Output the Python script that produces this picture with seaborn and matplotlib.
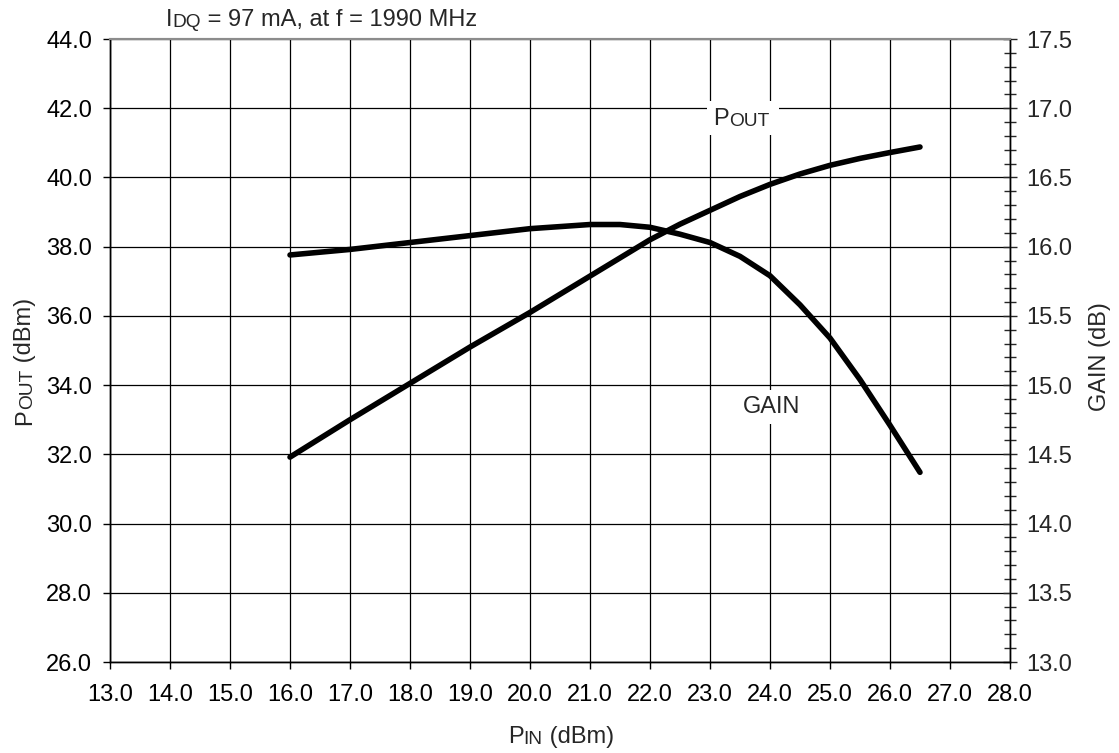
import numpy as np
import pandas as pd
import seaborn as sns
import matplotlib.pyplot as plt
from matplotlib.ticker import MultipleLocator, FormatStrFormatter

# values
pin_pout = [16.0, 17.0, 18.0, 19.0, 20.0, 21.0, 22.0, 22.5, 23.0, 23.5, 24.0, 24.5, 25.0, 25.5, 26.0, 26.5]
pout = [31.92, 33.0, 34.05, 35.1, 36.1, 37.15, 38.2, 38.65, 39.05, 39.45, 39.8, 40.1, 40.35, 40.55, 40.72, 40.88]

pin_gain = [16.0, 17.0, 18.0, 19.0, 20.0, 21.0, 21.5, 22.0, 22.5, 23.0, 23.5, 24.0, 24.5, 25.0, 25.5, 26.0, 26.5]
gain = [15.94, 15.98, 16.03, 16.08, 16.13, 16.16, 16.16, 16.14, 16.09, 16.03, 15.93, 15.79, 15.58, 15.34, 15.04, 14.71, 14.37]

W, H = 1119, 753
FS = 17
FS_SMALL = 13.8

sns.set_style("ticks")
plt.rcParams["font.family"] = ["Liberation Sans", "DejaVu Sans"]
plt.rcParams["font.size"] = FS

df_pout = pd.DataFrame({"pin": pin_pout, "pout": pout})
df_gain = pd.DataFrame({"pin": pin_gain, "gain": gain})

fig = plt.figure(figsize=(W / 100, H / 100), dpi=100)
ax = fig.add_axes([110 / W, 1 - 662 / H, 900 / W, 623 / H])
ax2 = ax.twinx()

sns.lineplot(data=df_pout, x="pin", y="pout", ax=ax, color="black", lw=4,
             solid_capstyle="round", solid_joinstyle="round", zorder=5)
sns.lineplot(data=df_gain, x="pin", y="gain", ax=ax2, color="black", lw=4,
             solid_capstyle="round", solid_joinstyle="round", zorder=5)

ax.set_xlim(13, 28)
ax.set_ylim(26, 44)
ax2.set_ylim(13, 17.5)

ax.xaxis.set_major_locator(MultipleLocator(1))
ax.yaxis.set_major_locator(MultipleLocator(2))
ax.xaxis.set_major_formatter(FormatStrFormatter("%.1f"))
ax.yaxis.set_major_formatter(FormatStrFormatter("%.1f"))
ax2.yaxis.set_major_locator(MultipleLocator(0.5))
ax2.yaxis.set_minor_locator(MultipleLocator(0.1))
ax2.yaxis.set_major_formatter(FormatStrFormatter("%.1f"))

ax.grid(True, color="black", lw=0.9)
ax.tick_params(axis="both", direction="out", length=5, width=1, colors="black",
               labelsize=FS, pad=8)
ax.tick_params(axis="x", pad=11)
ax2.tick_params(axis="y", which="major", direction="inout", length=10, width=1,
                labelsize=FS, pad=7)
ax2.tick_params(axis="y", which="minor", direction="inout", length=8, width=1)

ax.set_xlabel("")
ax.set_ylabel("")
ax2.set_ylabel("")
for a in (ax, ax2):
    for side in ("left", "right", "bottom"):
        a.spines[side].set_color("black")
        a.spines[side].set_linewidth(1)
    a.spines["top"].set_color("#8c8c8c")
    a.spines["top"].set_linewidth(1.5)


def chain(parts, x, y, rotation=0, zorder=3):
    # draw text pieces of different sizes one after another
    first = ax2.text(x / W, 1 - y / H, parts[0][0], fontsize=parts[0][1],
                     transform=fig.transFigure, rotation=rotation,
                     ha="left" if rotation == 0 else "center", va="bottom",
                     zorder=zorder, clip_on=False)
    prev = first
    for s, size in parts[1:]:
        if rotation == 0:
            prev = ax2.annotate(s, xy=(1, 0), xycoords=prev, fontsize=size,
                                ha="left", va="bottom", zorder=zorder)
        else:
            prev = ax2.annotate(s, xy=(1, 1), xycoords=prev, fontsize=size,
                                rotation=90, ha="right", va="bottom", zorder=zorder)
    return first


chain([("I", FS), ("DQ", FS_SMALL), (" = 97 mA, at f = 1990 MHz", FS)], 166, 31)
chain([("P", FS), ("IN", FS_SMALL), (" (dBm)", FS)], 508, 748)
chain([("P", FS), ("OUT", FS_SMALL), (" (dBm)", FS)], 25, 425, rotation=90)
fig.text(1100 / W, 1 - 357 / H, "GAIN (dB)", rotation=90, ha="center", va="center",
         fontsize=FS)

# white patch behind the POUT label so the grid is broken there
ax2.text(743 / W, 1 - 118 / H, " " * 9, transform=fig.transFigure, fontsize=FS,
         ha="center", va="center", zorder=6,
         bbox=dict(fc="white", ec="none", pad=4.5))
chain([("P", FS), ("OUT", FS_SMALL)], 713, 130, zorder=7)
ax2.text(772 / W, 1 - 407 / H, "GAIN", transform=fig.transFigure, fontsize=FS,
         ha="center", va="center", zorder=7,
         bbox=dict(fc="white", ec="none", pad=4.5))

fig.savefig("out.png", dpi=100)
